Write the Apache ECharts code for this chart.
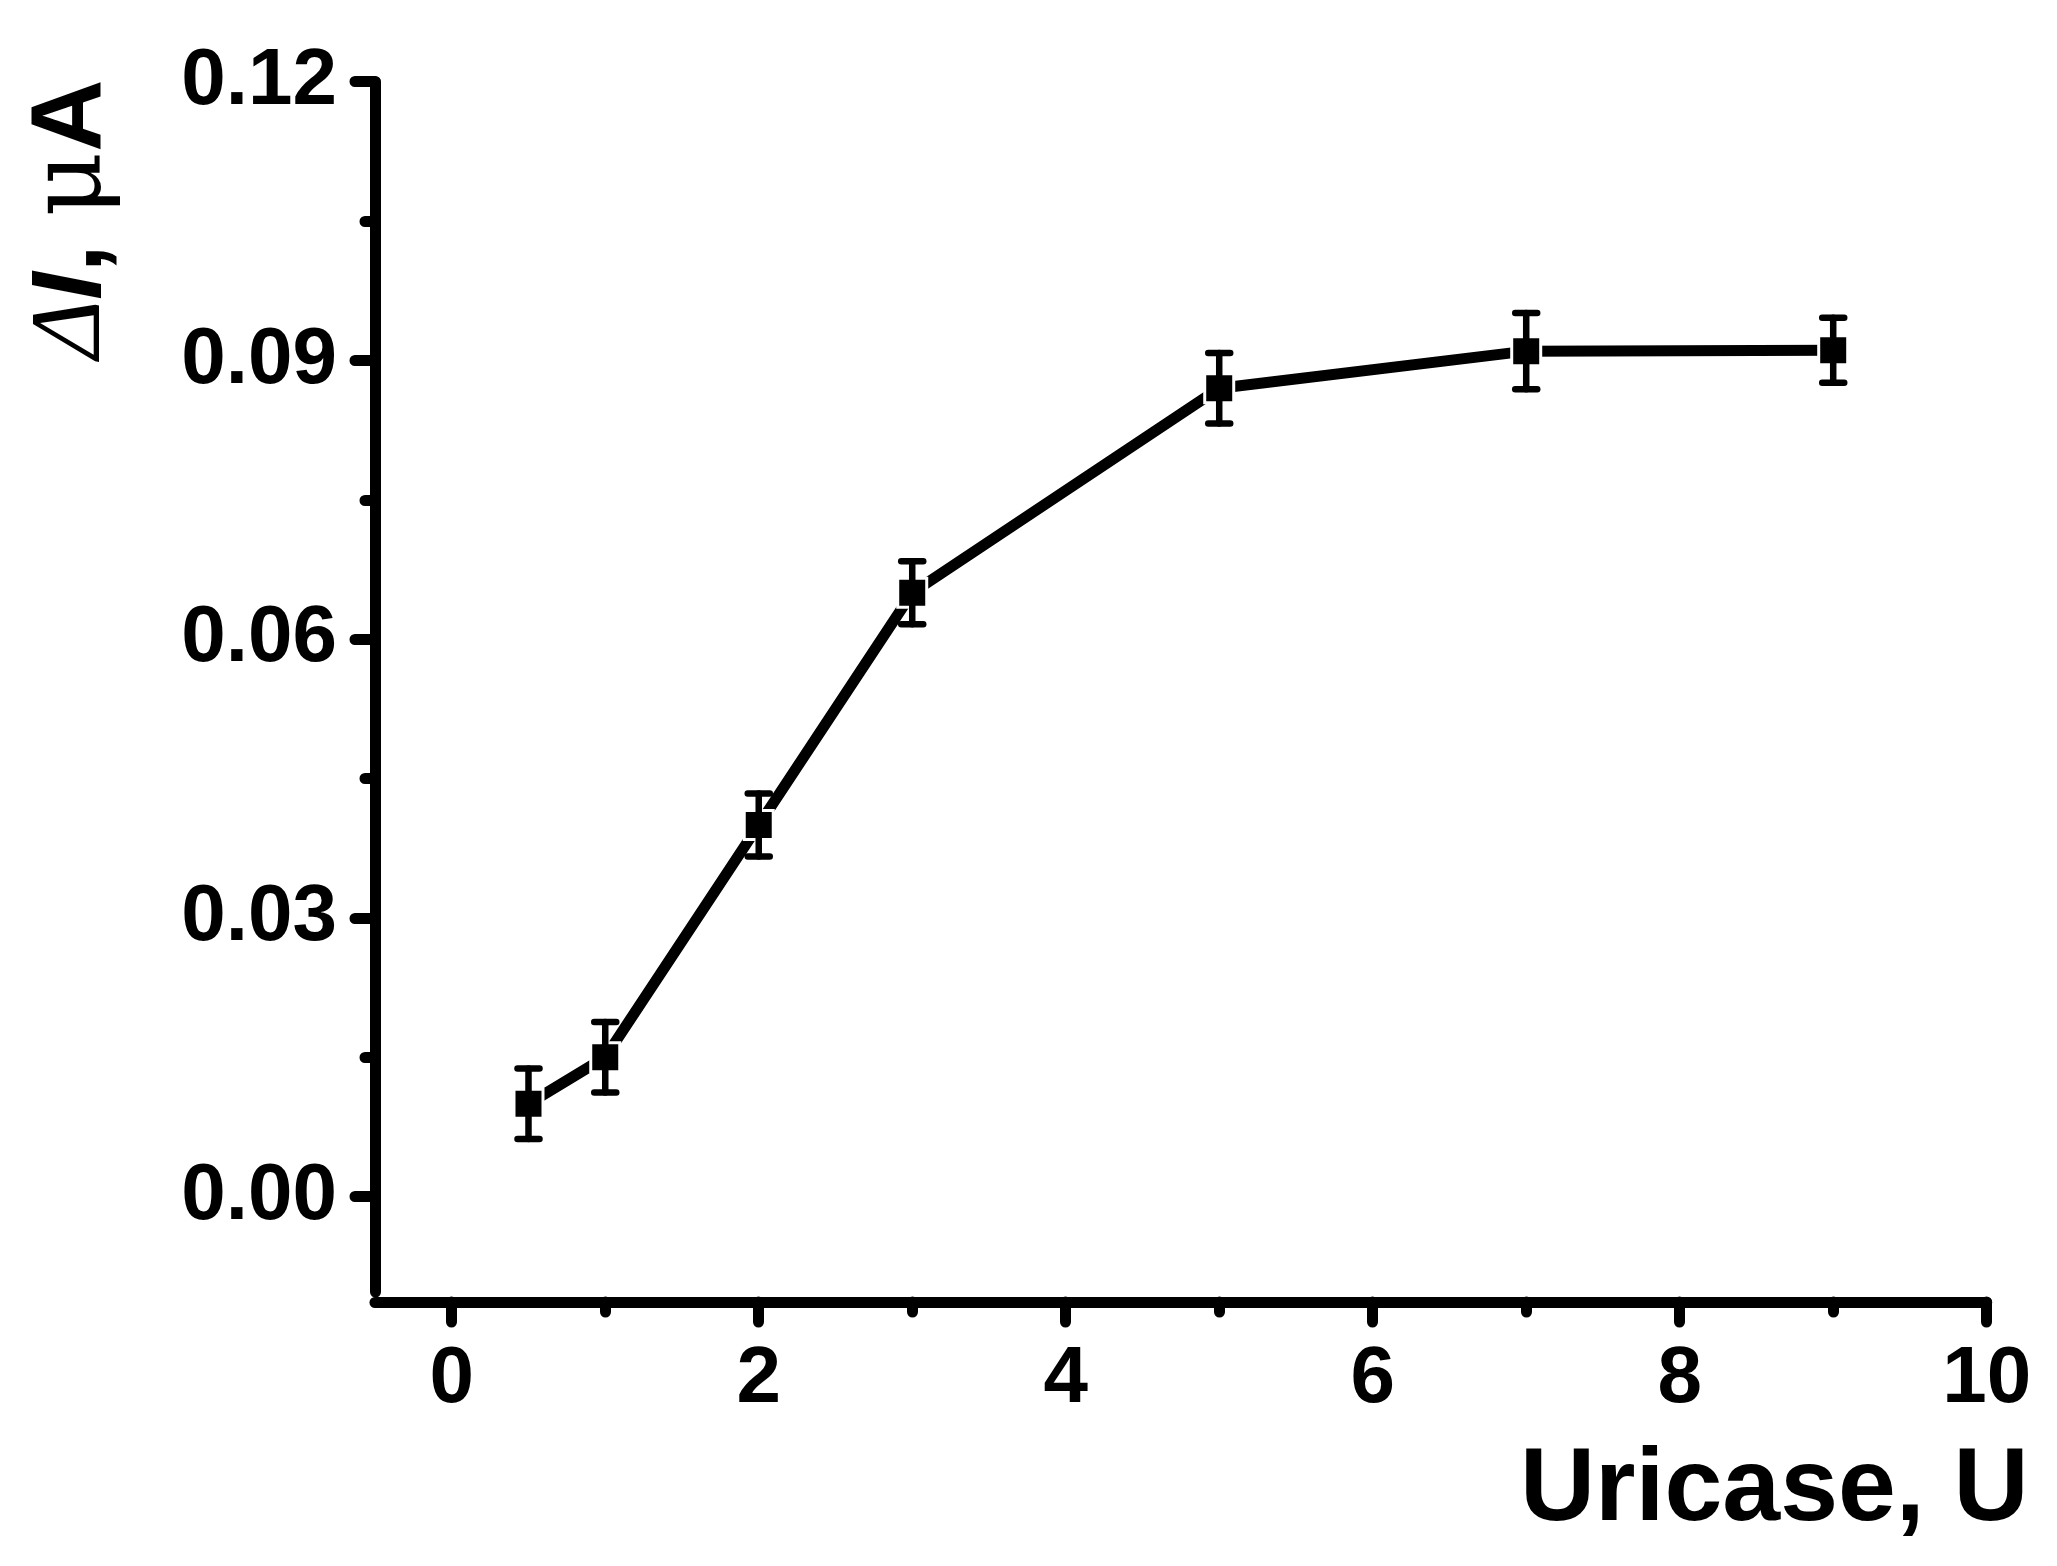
<!DOCTYPE html>
<html><head><meta charset="utf-8">
<script src="https://cdn.jsdelivr.net/npm/echarts@6/dist/echarts.min.js"></script>
<style>html,body{margin:0;padding:0;background:#fff}#c{width:2057px;height:1566px}</style>
</head><body><div id="c"></div>
<script>
// Data
const uricase = [0.5, 1, 2, 3, 5, 7, 9];
const deltaI = [0.0100, 0.0150, 0.0400, 0.0650, 0.0870, 0.0910, 0.0911];
const errors = [0.0038, 0.0038, 0.0034, 0.0034, 0.0038, 0.0041, 0.0035];
// Axis ticks
const xTicks = [0, 2, 4, 6, 8, 10];
const xMinorTicks = [1, 3, 5, 7, 9];
const yTicks = [0, 0.03, 0.06, 0.09, 0.12];
const yMinorTicks = [0.015, 0.045, 0.075, 0.105];
const xRange = [-0.5, 10];
const yRange = [-0.01026, 0.12];

const FONT = "'Liberation Sans', Arial, sans-serif";
const axisLineStyle = {color: '#000', width: 11, cap: 'round'};
const tickStyle = {color: '#000', width: 11, cap: 'round'};
const TS = 100;

const chart = echarts.init(document.getElementById('c'), null, {renderer: 'canvas'});
chart.setOption({
  animation: false,
  backgroundColor: '#fff',
  grid: {left: 375, right: 70.3, top: 81.7, bottom: 274, containLabel: false},
  xAxis: [{
    type: 'value', min: xRange[0], max: xRange[1], position: 'bottom', offset: 10,
    splitLine: {show: false},
    axisLine: {show: true, onZero: false, lineStyle: axisLineStyle},
    axisTick: {show: true, customValues: xTicks, length: 20, lineStyle: tickStyle},
    axisLabel: {customValues: xTicks, margin: 38, fontSize: 80, fontWeight: 'bold', fontFamily: FONT, color: '#000'},
    name: 'Uricase, U', nameLocation: 'end', nameGap: 42, nameMoveOverlap: false,
    nameTextStyle: {fontSize: 104, fontWeight: 'bold', fontFamily: FONT, color: '#000', align: 'right', verticalAlign: 'top', padding: [137, 0, 0, 0]}
  }, {
    type: 'value', min: xRange[0], max: xRange[1], position: 'bottom', offset: 10,
    splitLine: {show: false},
    axisLine: {show: false, onZero: false},
    axisTick: {show: true, customValues: xMinorTicks, length: 10, lineStyle: tickStyle},
    axisLabel: {show: false}
  }],
  yAxis: [{
    type: 'value', min: yRange[0], max: yRange[1], position: 'left',
    splitLine: {show: false},
    axisLine: {show: true, onZero: false, lineStyle: axisLineStyle},
    axisTick: {show: true, customValues: yTicks, length: 20, lineStyle: tickStyle},
    axisLabel: {customValues: yTicks, margin: 38, fontSize: 80, fontWeight: 'bold', fontFamily: FONT, color: '#000',
      padding: [0, 0, 8, 0], formatter: v => v.toFixed(2)},
    name: '{d|Δ}{i|I}{b|, }{m|μ}{b|A}', nameLocation: 'end', nameRotate: 90, nameGap: -277, nameMoveOverlap: false,
    nameTextStyle: {
      align: 'left', verticalAlign: 'bottom', padding: [0, 0, 252, 0],
      rich: {
        d: {fontSize: TS, fontFamily: "'Liberation Serif', serif", fontStyle: 'italic', color: '#000'},
        i: {fontSize: TS, fontFamily: FONT, fontWeight: 'bold', fontStyle: 'italic', color: '#000'},
        b: {fontSize: TS, fontFamily: FONT, fontWeight: 'bold', color: '#000'},
        m: {fontSize: TS, fontFamily: "'DejaVu Serif', serif", color: '#000'}
      }
    }
  }, {
    type: 'value', min: yRange[0], max: yRange[1], position: 'left',
    splitLine: {show: false},
    axisLine: {show: false, onZero: false},
    axisTick: {show: true, customValues: yMinorTicks, length: 10, lineStyle: tickStyle},
    axisLabel: {show: false}
  }],
  series: [{
    type: 'line', xAxisIndex: 0, yAxisIndex: 0, z: 2,
    data: uricase.map((x, i) => [x, deltaI[i]]),
    symbol: 'rect', symbolSize: 29,
    itemStyle: {color: '#000', borderColor: '#fff', borderWidth: 3},
    lineStyle: {color: '#000', width: 11, cap: 'round', join: 'round'},
    emphasis: {disabled: true}
  }, {
    type: 'custom', xAxisIndex: 0, yAxisIndex: 0, z: 3,
    data: uricase.map((x, i) => [x, deltaI[i], errors[i]]),
    renderItem: function (params, api) {
      const x = api.value(0), y = api.value(1), e = api.value(2);
      const top = api.coord([x, y + e]);
      const bot = api.coord([x, y - e]);
      const hw = 11;
      const st = {stroke: '#000', lineWidth: 6.5, lineCap: 'round'};
      return {type: 'group', children: [
        {type: 'line', shape: {x1: top[0], y1: top[1], x2: bot[0], y2: bot[1]}, style: st},
        {type: 'line', shape: {x1: top[0] - hw, y1: top[1], x2: top[0] + hw, y2: top[1]}, style: st},
        {type: 'line', shape: {x1: bot[0] - hw, y1: bot[1], x2: bot[0] + hw, y2: bot[1]}, style: st}
      ]};
    }
  }]
});
</script></body></html>
